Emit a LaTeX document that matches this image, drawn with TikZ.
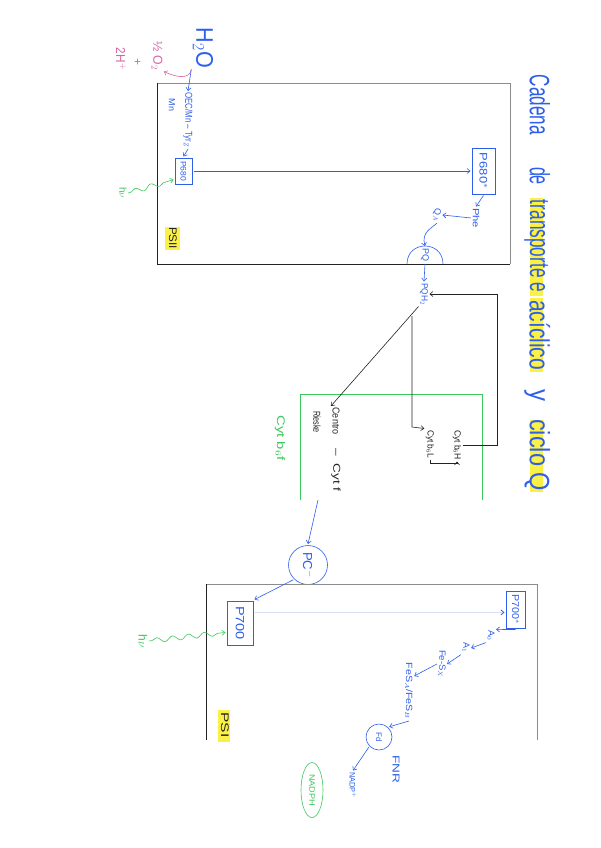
\documentclass[tikz,border=0pt]{standalone}
\usepackage{fontspec}
\setmainfont{Liberation Sans}
\usetikzlibrary{arrows.meta,shapes.geometric,decorations.pathmorphing,calc}
\definecolor{hblue}{RGB}{45,95,235}
\definecolor{hgreen}{RGB}{60,200,90}
\definecolor{hpink}{RGB}{215,100,165}
\definecolor{hyellow}{RGB}{250,240,70}
\definecolor{ltblue}{RGB}{215,222,245}
\definecolor{fgray}{RGB}{140,140,140}
\definecolor{fblack}{RGB}{35,35,35}
\newcommand\fsz[1]{\fontsize{#1}{#1}\selectfont}
\newcommand\rtx[2]{\rotatebox{-90}{\resizebox{#1}{\height}{#2}}}
\newcommand\rtn[1]{\rotatebox{-90}{#1}}
\begin{document}
\begin{tikzpicture}[x=1pt,y=-1pt,
  every node/.style={inner sep=0pt, outer sep=1.5pt},
  arr/.style={-{Straight Barb[length=3pt,width=5pt]}},
  hand/.style={line width=0.6pt},
  bbox/.style={draw=hblue, line width=0.8pt, rectangle, inner sep=0pt, text=hblue},
  frameg/.style={draw=fgray, line width=0.8pt},
  frameb/.style={draw=fblack, line width=0.9pt},
  wavy/.style={decorate, decoration={snake, amplitude=2.5pt, segment length=16pt, pre length=3pt, post length=5pt}},
]
\fill[white] (0,0) rectangle (600,848);
\useasboundingbox (0,0) rectangle (600,848);

% ---------- title ----------
\fill[hyellow] (530,198) rectangle (543,296);
\fill[hyellow] (530,298) rectangle (543,372);
\fill[hyellow] (530,420) rectangle (543,492);
\node[font=\fsz{28}, text=hblue] (t1) at (537,105) {\rtx{60pt}{\vphantom{Cp}Cadena}};
\node[font=\fsz{28}, text=hblue] (t2) at (537,176) {\rtx{18pt}{\vphantom{Cp}de}};
\node[font=\fsz{28}, text=hblue] (t3) at (537,246) {\rtx{92pt}{\vphantom{Cp}transporte e}};
\node[font=\fsz{28}, text=hblue] (t4) at (537,335) {\rtx{70pt}{\vphantom{Cp}acíclico}};
\node[font=\fsz{28}, text=hblue] (t5) at (537,395) {\rtx{12pt}{\vphantom{Cp}y}};
\node[font=\fsz{28}, text=hblue] (t6) at (537,455) {\rtx{72pt}{\vphantom{Cp}ciclo Q}};

% ---------- PSII ----------
\draw[frameg] (157,83) -- (510,83) -- (510,264);
\draw[frameb] (157,83) -- (157,264) -- (510,264);

\node[font=\fsz{24}, text=hblue] (h2o) at (203,48) {\rtx{40pt}{H$_2$O}};
\node[font=\fsz{13}, text=hpink] (half) at (157,56) {\rtx{28pt}{½ O$_2$}};
\node[font=\fsz{12}, text=hpink] (plus) at (137,62) {\rtn{+}};
\node[font=\fsz{13}, text=hpink] (twoH) at (121,59) {\rtx{22pt}{2H$^+$}};
\draw[hpink,hand,arr] (h2o.south west) .. controls (190,80) and (175,77) .. (half.south east);

\node[font=\fsz{10}, text=hblue] (oec) at (188,120) {\rtx{55pt}{OEC/Mn -- Tyr$_Z$}};
\node[font=\fsz{9}, text=hblue] (mn) at (172,105) {\rtn{Mn}};
\draw[hblue,hand,arr] (h2o.south west) -- (oec.north);

\node[bbox, minimum width=17pt, minimum height=26pt, font=\fsz{8}] (p680) at (183.5,171) {\rtx{20pt}{P680}};
\node[bbox, minimum width=23pt, minimum height=46pt, font=\fsz{11}] (p680s) at (483.5,171) {\rtx{36pt}{P680$^*$}};
\draw[hblue,hand,arr] (oec.south) -- (p680.north);
\draw[hblue,hand,arr] (p680.east) -- (p680s.west);

\node[font=\fsz{10}, text=hgreen] (hv1) at (123,193) {\rtn{h$\nu$}};
\draw[hgreen,hand,arr,wavy] (hv1.east) -- ($(p680.west)!0.6!(p680.south west)$);

\fill[hyellow] (165,227) rectangle (180,250);
\node[font=\fsz{11}, text=fblack] (psii) at (173,238) {\rtx{22pt}{PSII}};

\node[font=\fsz{9}, text=hblue] (phe) at (476,218) {\rtx{20pt}{Phe}};
\node[font=\fsz{9}, text=hblue] (qa) at (437,215) {\rtn{Q$_A$}};
\draw[hblue,hand,arr] (p680s.south) -- (phe.north);
\draw[hblue,hand,arr] (phe.west) -- (qa.east);

\coordinate (pqL) at (407,264);
\coordinate (pqR) at (443,264);
\coordinate (pqtop) at (425,246);
\coordinate (pqb) at (425,264);
\draw[hblue,hand] (pqL) .. controls (407,240) and (443,240) .. (pqR);
\node[font=\fsz{9}, text=hblue] (pq) at (425,255) {\rtn{PQ}};
\draw[hblue,hand,arr] (qa.south) .. controls (432,228) and (421,232) .. (pqtop);
\node[font=\fsz{9}, text=hblue] (pqh2) at (424,294) {\rtx{22pt}{PQH$_2$}};
\draw[hblue,hand,arr] (pqb) -- (pqh2.north);

% ---------- Cyt b6f ----------
\draw[hgreen, line width=0.8pt] (300,500) -- (300,394) -- (482,394) -- (482,500);
\node[font=\fsz{11}, text=hgreen] (cytb6f) at (280,438) {\rtx{45pt}{Cyt b$_6$f}};
\node[font=\fsz{10}, text=fblack] (rieske1) at (336,421) {\rtx{27pt}{Centro}};
\node[font=\fsz{10}, text=fblack] (rieske2) at (317,422) {\rtx{22pt}{Rieske}};
\node[font=\fsz{10}, text=fblack] (cytf) at (336,470) {\rtx{43pt}{--\ \ Cyt f}};
\node[font=\fsz{9}, text=fblack] (b6h) at (457,445) {\rtx{30pt}{Cyt b$_6$H}};
\node[font=\fsz{9}, text=fblack] (b6l) at (430,444) {\rtx{28pt}{Cyt b$_6$L}};

\coordinate (cq) at (497,445);
\draw[fblack,hand,arr] (b6h.east) -- (cq) |- (pqh2.east);
\draw[fblack,hand,arr] (pqh2.south west) -- (rieske1.north west);
\coordinate (v0) at (412,316);
\coordinate (v1) at (412,427);
\draw[fblack,hand,arr] (v0) -- (v1) -- (b6l.north west);
\draw[fblack,hand,arr] (b6l.south) -- ++(0,4) -| (b6h.south);

% ---------- PC ----------
\coordinate (gbout) at (318,500);
\node[circle, draw=hblue, hand, minimum size=39pt, font=\fsz{13}, text=hblue] (pc) at (308,565) {\rtx{26pt}{PC$^-$}};
\draw[hblue,hand,arr] (gbout) -- (pc.north);

% ---------- PSI ----------
\draw[frameg] (206,584) -- (537,584) -- (537,740);
\draw[frameb] (206,584) -- (206,740);

\node[bbox, minimum width=26pt, minimum height=44pt, font=\fsz{12}] (p700) at (240,623) {\rtx{34pt}{P700}};
\node[bbox, minimum width=19pt, minimum height=37pt, font=\fsz{10}] (p700s) at (515.5,609.5) {\rtx{30pt}{P700$^*$}};
\draw[hblue,hand,arr] (pc.south west) -- (p700.north east);
\coordinate (lz) at ($(p700.east)!0.45!(p700.north east)$);
\draw[ltblue, line width=0.8pt, -{Straight Barb[length=3pt,width=5pt,color=hblue]}] (lz) -- (lz -| p700s.west);

\node[font=\fsz{12}, text=hgreen] (hv2) at (143,641) {\rtn{h$\nu$}};
\draw[hgreen,hand,arr,wavy] (hv2.east) -- ($(p700.west)!0.4!(p700.south west)$);

\fill[hyellow] (218,710) rectangle (230,742);
\node[font=\fsz{11}, text=fblack] (psi) at (225,725) {\rtx{25pt}{PSI}};

\node[font=\fsz{9}, text=hblue] (a0) at (491,636) {\rtn{A$_0$}};
\node[font=\fsz{9}, text=hblue] (a1) at (466,648) {\rtn{A$_1$}};
\node[font=\fsz{9}, text=hblue] (fesx) at (442,664) {\rtx{28pt}{Fe-S$_X$}};
\node[font=\fsz{9}, text=hblue] (fesab) at (409,691) {\rtx{57pt}{FeS$_A$/FeS$_B$}};
\node[circle, draw=hblue, hand, minimum size=26pt, font=\fsz{8}, text=hblue] (fd) at (379,737) {\rtn{Fd}};
\node[font=\fsz{8}, text=hblue] (nadp) at (353,785) {\rtx{26pt}{NADP$^+$}};
\node[font=\fsz{10}, text=hblue] (fnr) at (396,769) {\rtx{28pt}{FNR}};
\node[ellipse, draw=hgreen, hand, minimum width=22pt, minimum height=55pt, font=\fsz{8}, text=hgreen] (nadph) at (312,790) {\rtx{32pt}{NADPH}};

\draw[hblue,hand,arr] (p700s.south) -- (a0.north east);
\draw[hblue,hand,arr] (a0.south west) -- (a1.east);
\draw[hblue,hand,arr] (a1.south west) -- (fesx.east);
\draw[hblue,hand,arr] (fesx.west) -- ($(fesab.north east)!0.25!(fesab.south east)$);
\draw[hblue,hand,arr] (fesab.south) -- (fd.north east);
\draw[hblue,hand,arr] (fd.south west) -- (nadp.north);
\end{tikzpicture}
\end{document}
